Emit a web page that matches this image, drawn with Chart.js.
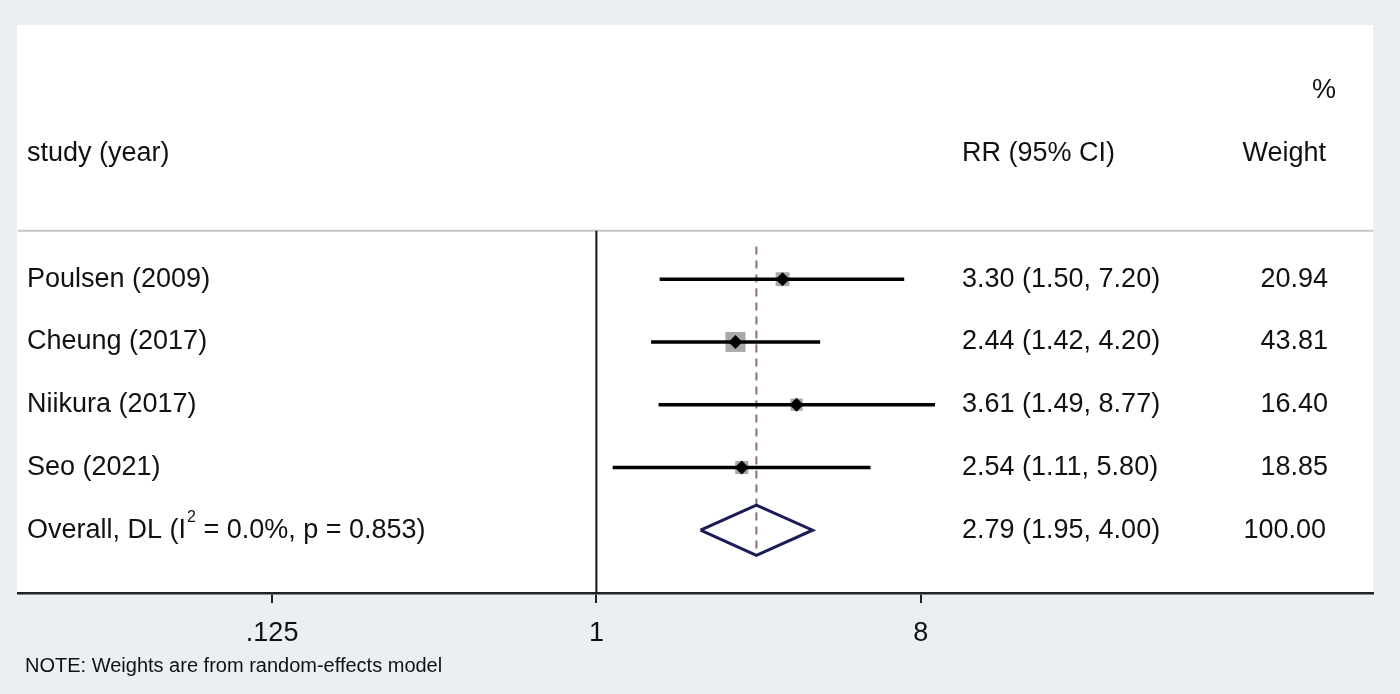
<!DOCTYPE html>
<html>
<head>
<meta charset="utf-8">
<script src="https://cdn.jsdelivr.net/npm/chart.js@4/dist/chart.umd.min.js"></script>
<style>
  html, body { margin: 0; padding: 0; background: #e9eff2; }
  #wrap { width: 1400px; height: 694px; position: relative; }
</style>
</head>
<body>
<div id="wrap"><canvas id="forest"></canvas></div>
<script>
// Studies (top to bottom)
const studies = ['Poulsen (2009)', 'Cheung (2017)', 'Niikura (2017)', 'Seo (2021)'];
const rr      = [3.30, 2.44, 3.61, 2.54];
const lower   = [1.50, 1.42, 1.49, 1.11];
const upper   = [7.20, 4.20, 8.77, 5.80];
const weights = [20.94, 43.81, 16.40, 18.85];

// Pooled estimate
const overallRR = 2.79;
const overallLo = 1.95;
const overallHi = 4.00;
const overallLabel = ['Overall, DL (I', '2', ' = 0.0%, p = 0.853)'];

// Axis
const tickVals = [0.125, 1, 8];
const xMin = 0.0245, xMax = 145.5;

const fmt = v => v.toFixed(2);
const FONT = "'Liberation Sans', Arial, sans-serif";
const overallRow = studies.length;

const datasets = [];

// point estimate markers (on top)
datasets.push({
    data: rr.map((v, i) => ({ x: v, y: i })),
    pointStyle: 'rectRot', pointRadius: 7, pointHoverRadius: 7,
    backgroundColor: '#000', borderWidth: 0, showLine: false, order: 0
});

// confidence intervals
studies.forEach((s, i) => {
    datasets.push({
        data: [{ x: lower[i], y: i }, { x: upper[i], y: i }],
        showLine: true, borderColor: '#000', borderWidth: 3.5,
        pointRadius: 0, order: 1
    });
});

// weight boxes
datasets.push({
    data: rr.map((v, i) => ({ x: v, y: i })),
    pointStyle: 'rect',
    pointRadius: weights.map(w => 2.14 * Math.sqrt(w)),
    pointHoverRadius: weights.map(w => 2.14 * Math.sqrt(w)),
    backgroundColor: '#a9a9a9', borderWidth: 0, showLine: false, order: 2
});

// overall diamond
datasets.push({
    data: [
        { x: overallLo, y: overallRow },
        { x: overallRR, y: overallRow - 0.4 },
        { x: overallHi, y: overallRow },
        { x: overallRR, y: overallRow + 0.4 },
        { x: overallLo, y: overallRow }
    ],
    showLine: true, borderColor: '#1b1b58', borderWidth: 3,
    pointRadius: 0, borderJoinStyle: 'miter', order: 1
});

// dashed line at pooled estimate
datasets.push({
    data: [{ x: overallRR, y: -0.52 }, { x: overallRR, y: overallRow + 0.42 }],
    showLine: true, borderColor: '#8c6f6f', borderWidth: 2, borderDash: [8, 6],
    pointRadius: 0, order: 4
});

// no-effect line
datasets.push({
    data: [{ x: 1, y: -0.77 }, { x: 1, y: 5 }],
    showLine: true, borderColor: '#111', borderWidth: 2,
    pointRadius: 0, order: 3
});

const tablePlugin = {
    id: 'table',
    beforeDraw(chart) {
        const ctx = chart.ctx;
        const a = chart.chartArea;
        ctx.save();
        ctx.fillStyle = '#e9eff2';
        ctx.fillRect(0, 0, chart.width, chart.height);
        ctx.fillStyle = '#fff';
        ctx.fillRect(a.left - 1, a.top, a.right - a.left + 1, a.bottom - a.top);
        // header separator
        const ys = chart.scales.y.getPixelForValue(-0.77);
        ctx.strokeStyle = '#c6c6c6';
        ctx.lineWidth = 2;
        ctx.beginPath();
        ctx.moveTo(a.left, ys);
        ctx.lineTo(a.right, ys);
        ctx.stroke();
        ctx.restore();
    },
    afterDraw(chart) {
        const ctx = chart.ctx;
        const y = chart.scales.y;
        const leftX = 27, ciX = 962, wX = 1328;
        const big = '27px ' + FONT;
        ctx.save();
        ctx.fillStyle = '#111';
        ctx.textBaseline = 'middle';
        ctx.font = big;

        // headers
        ctx.textAlign = 'right';
        ctx.fillText('%', 1336, y.getPixelForValue(-3));
        ctx.fillText('Weight', 1326, y.getPixelForValue(-2));
        ctx.textAlign = 'left';
        ctx.fillText('study (year)', leftX, y.getPixelForValue(-2));
        ctx.fillText('RR (95% CI)', ciX, y.getPixelForValue(-2));

        // study rows
        studies.forEach((s, i) => {
            const py = y.getPixelForValue(i);
            ctx.textAlign = 'left';
            ctx.fillText(s, leftX, py);
            ctx.fillText(fmt(rr[i]) + ' (' + fmt(lower[i]) + ', ' + fmt(upper[i]) + ')', ciX, py);
            ctx.textAlign = 'right';
            ctx.fillText(fmt(weights[i]), wX, py);
        });

        // overall row
        const oy = y.getPixelForValue(overallRow);
        ctx.textAlign = 'left';
        let x = leftX;
        ctx.fillText(overallLabel[0], x, oy);
        x += ctx.measureText(overallLabel[0]).width + 1;
        ctx.font = '16px ' + FONT;
        ctx.fillText(overallLabel[1], x, oy - 13);
        x += ctx.measureText(overallLabel[1]).width;
        ctx.font = big;
        ctx.fillText(overallLabel[2], x, oy);
        ctx.fillText(fmt(overallRR) + ' (' + fmt(overallLo) + ', ' + fmt(overallHi) + ')', ciX, oy);
        ctx.textAlign = 'right';
        ctx.fillText('100.00', 1326, oy);

        // note
        ctx.textAlign = 'left';
        ctx.font = '20px ' + FONT;
        ctx.fillText('NOTE: Weights are from random-effects model', 25, 666);
        ctx.restore();
    }
};

new Chart(document.getElementById('forest'), {
    type: 'scatter',
    data: { datasets: datasets },
    options: {
        responsive: true,
        maintainAspectRatio: false,
        animation: false,
        layout: { padding: { left: 18, right: 27, top: 25, bottom: 46 } },
        plugins: { legend: { display: false }, tooltip: { enabled: false } },
        scales: {
            x: {
                type: 'logarithmic',
                min: xMin, max: xMax,
                afterBuildTicks: s => { s.ticks = tickVals.map(v => ({ value: v })); },
                afterFit: s => { s.height = 55; },
                ticks: {
                    color: '#111',
                    font: { family: FONT, size: 27 },
                    padding: 14,
                    maxRotation: 0,
                    autoSkip: false,
                    callback: v => v < 1 ? String(v).replace(/^0/, '') : String(v)
                },
                grid: { drawOnChartArea: false, drawTicks: true, tickLength: 10, color: '#222', lineWidth: 2 },
                border: { display: true, color: '#222', width: 2.5 }
            },
            y: {
                type: 'linear', display: false, reverse: true,
                min: -4.05, max: 5
            }
        }
    },
    plugins: [tablePlugin]
});
</script>
</body>
</html>
